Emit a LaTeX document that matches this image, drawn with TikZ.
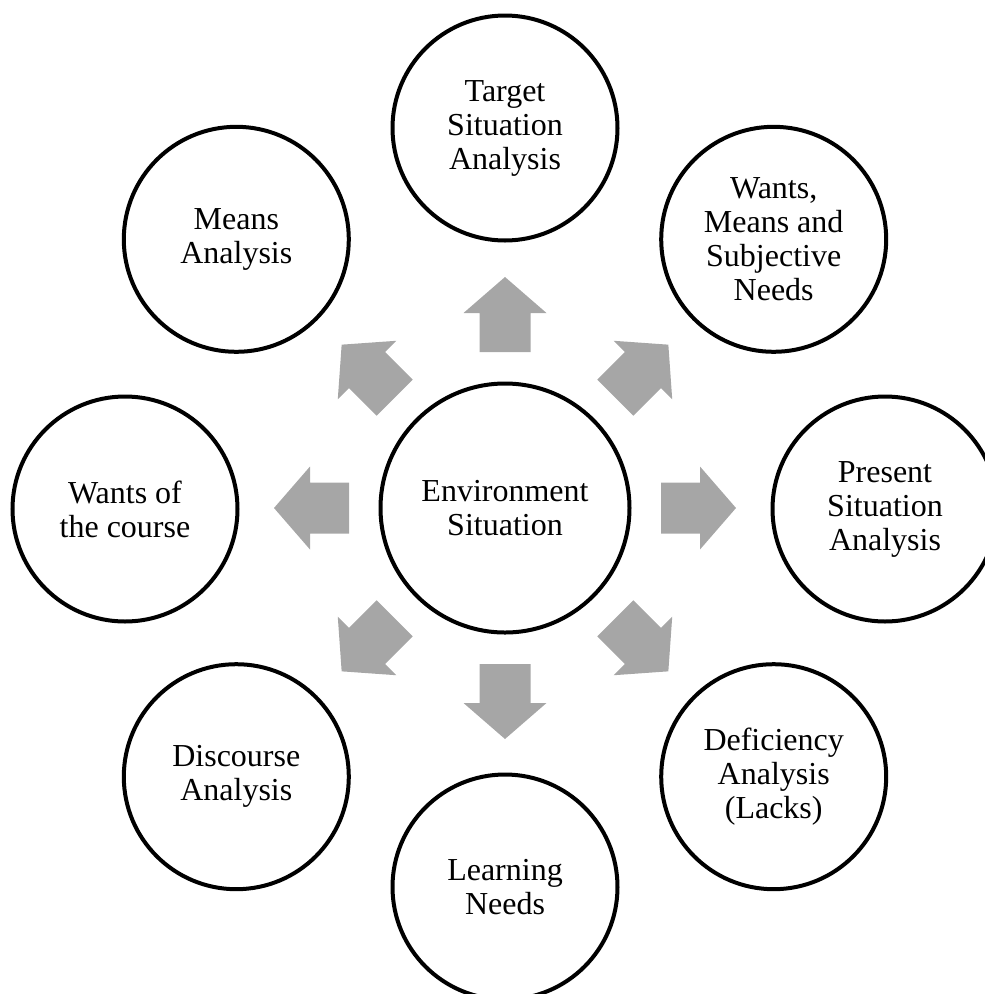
\documentclass[tikz,border=0pt]{standalone}
\usepackage{fontspec}
\setmainfont{Liberation Serif}
\begin{document}
\begin{tikzpicture}[x=1pt,y=-1pt,
  outer/.style={circle,draw=black,line width=4pt,fill=white,minimum size=225pt,
    inner sep=0pt,align=center,font=\fontsize{32}{34}\selectfont},
  inner/.style={outer,minimum size=249pt},
  blockarrow/.style={fill=arrowgray,draw=none}]
\definecolor{arrowgray}{HTML}{A6A6A6}
\useasboundingbox (0,0) rectangle (985,994);
\clip (0,0) rectangle (985,994);
\node[inner] (env) at (505,508) {Environment\\Situation};
\node[outer] (tsa) at (505,128) {Target\\Situation\\Analysis};
\node[outer] (wms) at (773.7,239.3) {Wants,\\Means and\\Subjective\\Needs};
\node[outer] (psa) at (885,509) {Present\\Situation\\Analysis};
\node[outer] (def) at (773.7,776.7) {Deficiency\\Analysis\\(Lacks)};
\node[outer] (lrn) at (505,887) {Learning\\Needs};
\node[outer] (dis) at (236.3,776.7) {Discourse\\Analysis};
\node[outer] (woc) at (125,509) {Wants of\\the course};
\node[outer] (mea) at (236.3,239.3) {Means\\Analysis};
\foreach \a in {0,45,...,315}{
  \begin{scope}[shift={(env.center)},rotate=\a]
    \fill[blockarrow] (156,-25.5) -- (195,-25.5) -- (195,-41.5) -- (231,0)
      -- (195,41.5) -- (195,25.5) -- (156,25.5) -- cycle;
  \end{scope}
}
\end{tikzpicture}
\end{document}
